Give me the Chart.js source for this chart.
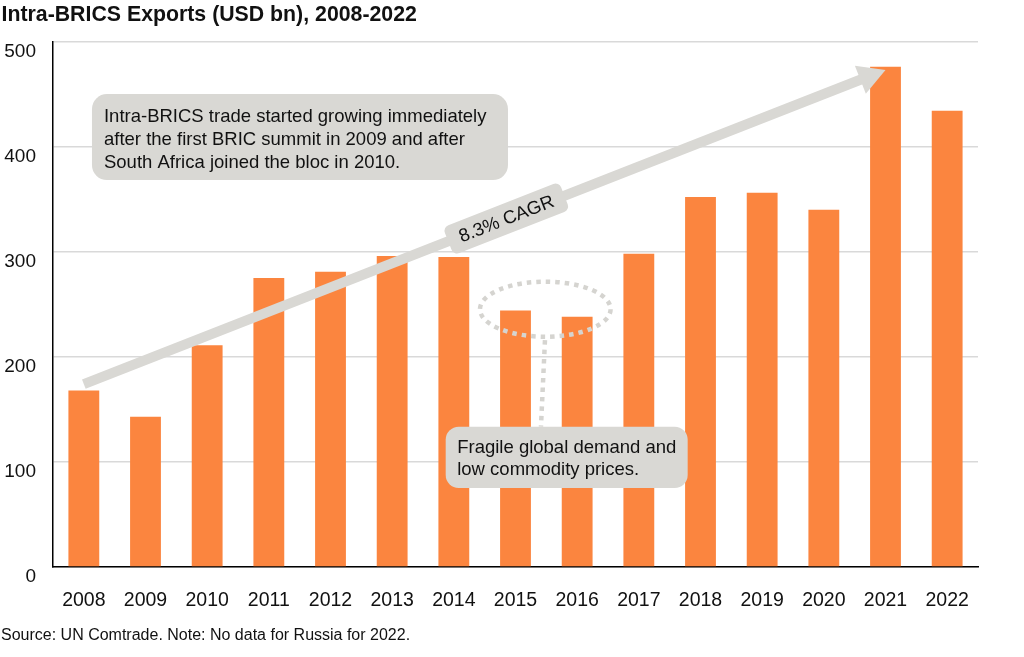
<!DOCTYPE html>
<html>
<head>
<meta charset="utf-8">
<script src="https://cdn.jsdelivr.net/npm/chart.js@4.4.1/dist/chart.umd.min.js"></script>
<style>
  html, body { margin: 0; padding: 0; background: #ffffff; }
  canvas { display: block; }
</style>
</head>
<body>
<canvas id="c" width="1024" height="657"></canvas>
<script>
// ---- data ----
const years = ['2008','2009','2010','2011','2012','2013','2014','2015','2016','2017','2018','2019','2020','2021','2022'];
const exportsUsdBn = [168, 143, 211, 275, 281, 296, 295, 244, 238, 298, 352, 356, 340, 476, 434];
const yTickValues = [0, 100, 200, 300, 400, 500];

const titleText = 'Intra-BRICS Exports (USD bn), 2008-2022';
const sourceText = 'Source: UN Comtrade. Note: No data for Russia for 2022.';
const note1Lines = ['Intra-BRICS trade started growing immediately', 'after the first BRIC summit in 2009 and after', 'South Africa joined the bloc in 2010.'];
const note2Lines = ['Fragile global demand and', 'low commodity prices.'];
const cagrText = '8.3% CAGR';

const FONT = "'Liberation Sans', Arial, Helvetica, sans-serif";
const ORANGE = '#fb853f';
const GREY = '#d9d8d4';

function rr(ctx, x, y, w, h, r) {
  ctx.beginPath();
  ctx.moveTo(x + r, y);
  ctx.lineTo(x + w - r, y);
  ctx.arcTo(x + w, y, x + w, y + r, r);
  ctx.lineTo(x + w, y + h - r);
  ctx.arcTo(x + w, y + h, x + w - r, y + h, r);
  ctx.lineTo(x + r, y + h);
  ctx.arcTo(x, y + h, x, y + h - r, r);
  ctx.lineTo(x, y + r);
  ctx.arcTo(x, y, x + r, y, r);
  ctx.closePath();
}

const annotations = {
  id: 'annotations',
  afterDatasetsDraw(chart) {
    const ctx = chart.ctx;
    const xs = chart.scales.x, ys = chart.scales.y;
    const px = i => xs.getPixelForValue(i);
    const py = v => ys.getPixelForValue(v);
    ctx.save();

    // trend arrow (from 2008 to 2021)
    const x0 = px(0), y0 = py(174), x1 = px(13), y1 = py(473);
    const ang = Math.atan2(y1 - y0, x1 - x0);
    const headLen = 27, headHalf = 15;
    const bx = x1 - headLen * Math.cos(ang), by = y1 - headLen * Math.sin(ang);
    ctx.strokeStyle = GREY;
    ctx.lineWidth = 10;
    ctx.lineCap = 'butt';
    ctx.beginPath();
    ctx.moveTo(x0, y0);
    ctx.lineTo(bx + 2 * Math.cos(ang), by + 2 * Math.sin(ang));
    ctx.stroke();
    ctx.fillStyle = GREY;
    ctx.beginPath();
    ctx.moveTo(x1, y1);
    ctx.lineTo(bx + headHalf * Math.sin(ang), by - headHalf * Math.cos(ang));
    ctx.lineTo(bx - headHalf * Math.sin(ang), by + headHalf * Math.cos(ang));
    ctx.closePath();
    ctx.fill();

    // CAGR label along arrow
    const t = 0.527;
    const cx = x0 + (x1 - x0) * t, cy = y0 + (y1 - y0) * t;
    ctx.save();
    ctx.translate(cx, cy);
    ctx.rotate(ang);
    ctx.font = '18.5px ' + FONT;
    const tw = ctx.measureText(cagrText).width;
    const bw = tw + 24, bh = 30;
    ctx.fillStyle = GREY;
    rr(ctx, -bw / 2, -bh / 2, bw, bh, 6);
    ctx.fill();
    ctx.fillStyle = '#111111';
    ctx.textAlign = 'center';
    ctx.textBaseline = 'middle';
    ctx.fillText(cagrText, 0, 1);
    ctx.restore();

    // note box 1
    {
      const L = px(0.132), R = px(6.878), T = py(450), B = py(368.2);
      ctx.fillStyle = GREY;
      rr(ctx, L, T, R - L, B - T, 15);
      ctx.fill();
      ctx.fillStyle = '#111111';
      ctx.font = '18.5px ' + FONT;
      ctx.textAlign = 'left';
      ctx.textBaseline = 'alphabetic';
      note1Lines.forEach((s, i) => ctx.fillText(s, L + 12, T + 27.7 + i * 23.3));
    }

    // dotted ellipse around 2015-2016
    {
      const ecx = px(7.483), ecy = py(245.3);
      const erx = px(7.483 + 1.059) - ecx, ery = py(245.3 - 26.2) - ecy;
      ctx.strokeStyle = '#d5d4d0';
      ctx.lineWidth = 4.5;
      ctx.setLineDash([4.5, 5]);
      ctx.beginPath();
      ctx.ellipse(ecx, ecy, erx, ery, 0, 0, Math.PI * 2);
      ctx.stroke();
      ctx.beginPath();
      ctx.moveTo(px(7.478), py(218.8) + 3);
      ctx.lineTo(px(7.413), py(133.5));
      ctx.stroke();
      ctx.setLineDash([]);
    }

    // note box 2
    {
      const L = px(5.868), R = px(9.792), T = py(133.5), B = py(75.2);
      ctx.fillStyle = GREY;
      rr(ctx, L, T, R - L, B - T, 13);
      ctx.fill();
      ctx.fillStyle = '#111111';
      ctx.font = '18.5px ' + FONT;
      ctx.textAlign = 'left';
      ctx.textBaseline = 'alphabetic';
      note2Lines.forEach((s, i) => ctx.fillText(s, L + 11.5, T + 26 + i * 22.3));
    }
    ctx.restore();
  },
  afterDraw(chart) {
    const ctx = chart.ctx;
    ctx.save();
    ctx.fillStyle = '#111111';
    ctx.textAlign = 'left';
    ctx.textBaseline = 'alphabetic';
    ctx.font = 'bold 21.3px ' + FONT;
    ctx.fillText(titleText, 1.5, 20.5);
    ctx.font = '16px ' + FONT;
    ctx.fillText(sourceText, 1, 639.5);
    ctx.restore();
  }
};

new Chart(document.getElementById('c'), {
  type: 'bar',
  data: {
    labels: years,
    datasets: [{
      data: exportsUsdBn,
      backgroundColor: ORANGE,
      borderWidth: 0,
      barPercentage: 0.5,
      categoryPercentage: 1.0
    }]
  },
  options: {
    responsive: false,
    animation: false,
    devicePixelRatio: 1,
    layout: { padding: { top: 41.5, right: 46, bottom: 0, left: 0 } },
    plugins: { legend: { display: false }, tooltip: { enabled: false }, title: { display: false } },
    scales: {
      x: {
        grid: { display: false, drawTicks: false },
        border: { display: true, color: '#000000', width: 1.5 },
        ticks: { color: '#111111', font: { family: FONT, size: 19.5 }, padding: 22, maxRotation: 0, autoSkip: false },
        afterFit(s) { s.height = 657 - 567; }
      },
      y: {
        min: 0,
        max: 500,
        afterBuildTicks(s) { s.ticks = yTickValues.map(v => ({ value: v })); },
        grid: { color: '#d9d9d9', lineWidth: 1.5, drawTicks: false },
        border: { display: true, color: '#000000', width: 1.5 },
        ticks: { color: '#111111', font: { family: FONT, size: 19 }, padding: 17, labelOffset: 10 },
        afterFit(s) { s.width = 53; }
      }
    }
  },
  plugins: [annotations]
});
</script>
</body>
</html>
